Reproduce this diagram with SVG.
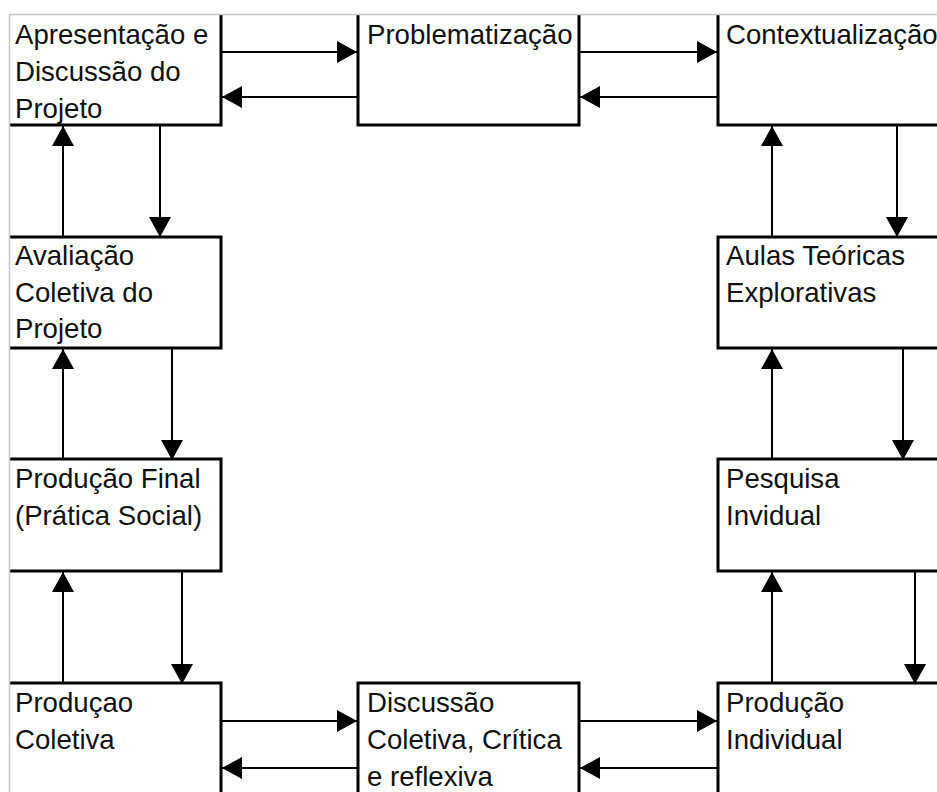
<svg xmlns="http://www.w3.org/2000/svg" width="937" height="792" viewBox="0 0 937 792">
<style>
.box{fill:#fff;stroke:#000;stroke-width:3}
.t{font-family:"Liberation Sans",Arial,sans-serif;font-size:27.6px;fill:#111}
.c{stroke:#000;stroke-width:2;fill:none;marker-end:url(#ah)}
</style>
<defs>
<clipPath id="frame"><rect x="10" y="15" width="927" height="777"/></clipPath>
<marker id="ah" markerUnits="userSpaceOnUse" markerWidth="22" markerHeight="22" refX="20" refY="11" orient="auto" viewBox="0 0 22 22">
<path d="M0,0 L20,11 L0,22 Z" fill="#000"/>
</marker>
</defs>
<rect width="937" height="792" fill="#fff"/>
<g clip-path="url(#frame)">
<g id="n1"><rect class="box" x="0" y="0" width="221" height="125"/>
<text class="t" x="15" y="44">Apresentação e</text><text class="t" x="15" y="81">Discussão do</text><text class="t" x="15" y="118">Projeto</text></g>
<g id="n2"><rect class="box" x="358" y="0" width="221" height="125"/>
<text class="t" x="367" y="44">Problematização</text></g>
<g id="n3"><rect class="box" x="718" y="0" width="300" height="125"/>
<text class="t" x="726" y="44">Contextualização</text></g>
<g id="n4"><rect class="box" x="0" y="237" width="221" height="111"/>
<text class="t" x="15" y="265">Avaliação</text><text class="t" x="15" y="302">Coletiva do</text><text class="t" x="15" y="338">Projeto</text></g>
<g id="n5"><rect class="box" x="718" y="237" width="300" height="111"/>
<text class="t" x="726" y="265">Aulas Teóricas</text><text class="t" x="726" y="302">Explorativas</text></g>
<g id="n6"><rect class="box" x="0" y="459" width="221" height="112"/>
<text class="t" x="15" y="488">Produção Final</text><text class="t" x="15" y="525">(Prática Social)</text></g>
<g id="n7"><rect class="box" x="718" y="459" width="300" height="112"/>
<text class="t" x="726" y="488">Pesquisa</text><text class="t" x="726" y="525">Invidual</text></g>
<g id="n8"><rect class="box" x="0" y="683" width="221" height="150"/>
<text class="t" x="15" y="712">Produçao</text><text class="t" x="15" y="749">Coletiva</text></g>
<g id="n9"><rect class="box" x="358" y="683" width="221" height="150"/>
<text class="t" x="367" y="712">Discussão</text><text class="t" x="367" y="749">Coletiva, Crítica</text><text class="t" x="367" y="786">e reflexiva</text></g>
<g id="n10"><rect class="box" x="718" y="683" width="300" height="150"/>
<text class="t" x="726" y="712">Produção</text><text class="t" x="726" y="749">Individual</text></g>
<g id="connectors">
<line class="c" x1="222" y1="52" x2="357" y2="52"/>
<line class="c" x1="357" y1="97" x2="222" y2="97"/>
<line class="c" x1="580" y1="52" x2="717" y2="52"/>
<line class="c" x1="717" y1="97" x2="580" y2="97"/>
<line class="c" x1="222" y1="721" x2="357" y2="721"/>
<line class="c" x1="357" y1="768" x2="222" y2="768"/>
<line class="c" x1="580" y1="721" x2="717" y2="721"/>
<line class="c" x1="717" y1="768" x2="580" y2="768"/>
<line class="c" x1="63" y1="236" x2="63" y2="126"/>
<line class="c" x1="160" y1="126" x2="160" y2="237"/>
<line class="c" x1="63" y1="458" x2="63" y2="349"/>
<line class="c" x1="172" y1="349" x2="172" y2="460"/>
<line class="c" x1="63" y1="682" x2="63" y2="572"/>
<line class="c" x1="182" y1="572" x2="182" y2="684"/>
<line class="c" x1="772" y1="236" x2="772" y2="126"/>
<line class="c" x1="897" y1="126" x2="897" y2="237"/>
<line class="c" x1="772" y1="458" x2="772" y2="349"/>
<line class="c" x1="903" y1="349" x2="903" y2="460"/>
<line class="c" x1="772" y1="682" x2="772" y2="572"/>
<line class="c" x1="915" y1="572" x2="915" y2="684"/>
</g>
</g>
<path d="M9.5,792 V14.5 H937" fill="none" stroke="#c8c8c8" stroke-width="1.5"/>
</svg>
